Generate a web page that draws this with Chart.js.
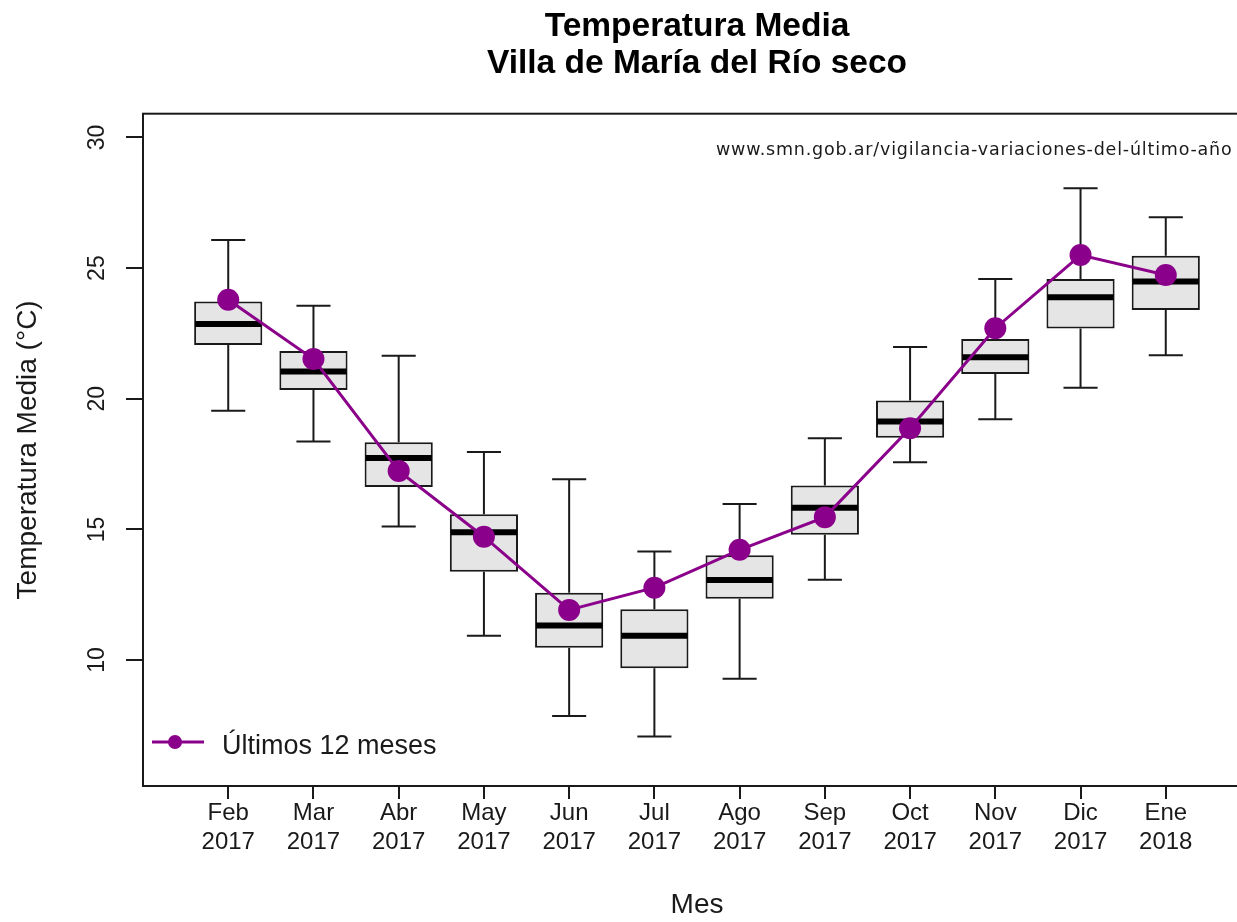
<!DOCTYPE html>
<html>
<head>
<meta charset="utf-8">
<script src="https://cdn.jsdelivr.net/npm/chart.js@4/dist/chart.umd.min.js"></script>
<style>
  html, body { margin: 0; padding: 0; background: #fff; overflow: hidden; }
  canvas { display: block; }
</style>
</head>
<body>
<canvas id="c" width="1251" height="922"></canvas>
<script>
// ---- data ----
const months = ["Feb", "Mar", "Abr", "May", "Jun", "Jul", "Ago", "Sep", "Oct", "Nov", "Dic", "Ene"];
const years  = ["2017", "2017", "2017", "2017", "2017", "2017", "2017", "2017", "2017", "2017", "2017", "2018"];
const whiskerLow  = [19.54, 18.36, 15.11, 10.93, 7.86, 7.07, 9.28, 13.07, 17.57, 19.22, 20.42, 21.67];
const q1          = [22.06, 20.34, 16.62, 13.38, 10.47, 9.69, 12.35, 14.80, 18.51, 20.95, 22.69, 23.40];
const median      = [22.86, 21.04, 17.73, 14.89, 11.32, 10.93, 13.06, 15.83, 19.13, 21.59, 23.89, 24.49];
const q3          = [23.72, 21.83, 18.34, 15.58, 12.58, 11.94, 14.01, 16.68, 19.93, 22.29, 24.58, 25.47];
const whiskerHigh = [26.08, 23.56, 21.65, 17.96, 16.92, 14.15, 15.97, 18.49, 21.98, 24.58, 28.06, 26.95];
const last12      = [23.79, 21.52, 17.24, 14.72, 11.92, 12.77, 14.22, 15.47, 18.87, 22.70, 25.50, 24.74];
const yTickValues = [10, 15, 20, 25, 30];
const titleLines  = ["Temperatura Media", "Villa de María del Río seco"];
const seriesLabel = "Últimos 12 meses";
const sourceText  = "www.smn.gob.ar/vigilancia-variaciones-del-último-año";
const xTitle = "Mes";
const yTitle = "Temperatura Media (°C)";

const PURPLE = "#8b008b";
const INK = "#1a1a1a";
const FONT = "'Liberation Sans', Arial, sans-serif";

const boxData = months.map((m, i) => ({ x: i, y: [q1[i], q3[i]] }));
const lineData = months.map((m, i) => ({ x: i, y: last12[i] }));

const boxPlugin = {
  id: "boxExtras",
  afterDatasetDraw(chart, args) {
    if (args.meta.type !== "bar") return;
    const ctx = chart.ctx;
    const xs = chart.scales.x, ys = chart.scales.y;
    ctx.save();
    args.meta.data.forEach((bar, i) => {
      const cx = xs.getPixelForValue(i);
      const w = bar.width;
      const cap = w / 2;
      ctx.strokeStyle = INK;
      ctx.lineWidth = 2;
      ctx.beginPath();
      // upper whisker
      ctx.moveTo(cx, ys.getPixelForValue(q3[i]));
      ctx.lineTo(cx, ys.getPixelForValue(whiskerHigh[i]));
      ctx.moveTo(cx - cap / 2, ys.getPixelForValue(whiskerHigh[i]));
      ctx.lineTo(cx + cap / 2, ys.getPixelForValue(whiskerHigh[i]));
      // lower whisker
      ctx.moveTo(cx, ys.getPixelForValue(q1[i]));
      ctx.lineTo(cx, ys.getPixelForValue(whiskerLow[i]));
      ctx.moveTo(cx - cap / 2, ys.getPixelForValue(whiskerLow[i]));
      ctx.lineTo(cx + cap / 2, ys.getPixelForValue(whiskerLow[i]));
      ctx.stroke();
      // median
      ctx.strokeStyle = "#000";
      ctx.lineWidth = 6;
      ctx.beginPath();
      ctx.moveTo(cx - w / 2 + 1, ys.getPixelForValue(median[i]));
      ctx.lineTo(cx + w / 2 - 1, ys.getPixelForValue(median[i]));
      ctx.stroke();
    });
    ctx.restore();
  },
  afterDraw(chart) {
    const ctx = chart.ctx;
    const a = chart.chartArea;
    ctx.save();
    // frame
    ctx.strokeStyle = INK;
    ctx.lineWidth = 2;
    ctx.strokeRect(a.left, a.top, a.right - a.left, a.bottom - a.top);
    // source text
    ctx.fillStyle = INK;
    ctx.font = "17.5px 'DejaVu Sans', sans-serif";
    try { ctx.letterSpacing = "0.8px"; } catch (e) {}
    ctx.textAlign = "left";
    ctx.textBaseline = "middle";
    ctx.fillText(sourceText, a.left + 573, a.top + 37);
    try { ctx.letterSpacing = "0px"; } catch (e) {}
    // legend
    const ly = a.bottom - 44;
    ctx.strokeStyle = PURPLE;
    ctx.lineWidth = 3;
    ctx.beginPath();
    ctx.moveTo(a.left + 9, ly);
    ctx.lineTo(a.left + 61, ly);
    ctx.stroke();
    ctx.fillStyle = PURPLE;
    ctx.beginPath();
    ctx.arc(a.left + 32, ly, 7, 0, Math.PI * 2);
    ctx.fill();
    ctx.fillStyle = INK;
    ctx.font = "27px " + FONT;
    ctx.fillText(seriesLabel, a.left + 79, ly + 5);
    ctx.restore();
  }
};

new Chart(document.getElementById("c"), {
  type: "bar",
  data: {
    datasets: [
      {
        type: "line",
        label: seriesLabel,
        data: lineData,
        order: 0,
        borderColor: PURPLE,
        backgroundColor: PURPLE,
        borderWidth: 3,
        pointRadius: 11,
        pointBackgroundColor: PURPLE,
        pointBorderWidth: 0,
        tension: 0,
        clip: false
      },
      {
        type: "bar",
        label: "box",
        data: boxData,
        order: 1,
        backgroundColor: "#e5e5e5",
        borderColor: INK,
        borderWidth: 2,
        borderSkipped: false,
        categoryPercentage: 0.8,
        barPercentage: 1.0
      }
    ]
  },
  plugins: [boxPlugin],
  options: {
    responsive: false,
    animation: false,
    events: [],
    layout: { autoPadding: false, padding: { left: 0, right: 0, top: 0, bottom: 0 } },
    plugins: {
      legend: { display: false },
      tooltip: { enabled: false },
      title: {
        display: true,
        text: titleLines,
        fullSize: false,
        color: "#000",
        font: { family: FONT, size: 33.5, weight: "bold", lineHeight: 1.1 },
        padding: { top: 8, bottom: 32 }
      }
    },
    scales: {
      x: {
        type: "linear",
        min: -1,
        max: 12,
        offset: false,
        afterBuildTicks: (s) => { s.ticks = months.map((m, i) => ({ value: i })); },
        afterFit: (s) => { s.height = 136; },
        ticks: {
          autoSkip: false,
          maxRotation: 0,
          minRotation: 0,
          padding: 0,
          color: INK,
          font: { family: FONT, size: 24, lineHeight: 1.2 },
          callback: (v, i) => [months[i], years[i]]
        },
        grid: { offset: false, drawOnChartArea: false, drawTicks: true, tickLength: 13, lineWidth: 2, color: INK },
        border: { display: false },
        title: {
          display: true,
          text: xTitle,
          color: INK,
          font: { family: FONT, size: 28, lineHeight: 1.2 },
          padding: { top: 0, bottom: 0 }
        }
      },
      y: {
        type: "linear",
        min: 5.18,
        max: 30.91,
        afterBuildTicks: (s) => { s.ticks = yTickValues.map(v => ({ value: v })); },
        afterFit: (s) => { s.width = 143; },
        ticks: {
          minRotation: 90,
          maxRotation: 90,
          crossAlign: "center",
          padding: 16,
          color: INK,
          font: { family: FONT, size: 23 }
        },
        grid: { drawOnChartArea: false, drawTicks: true, tickLength: 17, lineWidth: 2, color: INK },
        border: { display: false },
        title: {
          display: true,
          text: yTitle,
          color: INK,
          font: { family: FONT, size: 28, lineHeight: 1.2 },
          padding: { top: 11, bottom: 0 }
        }
      }
    }
  }
});
</script>
</body>
</html>
